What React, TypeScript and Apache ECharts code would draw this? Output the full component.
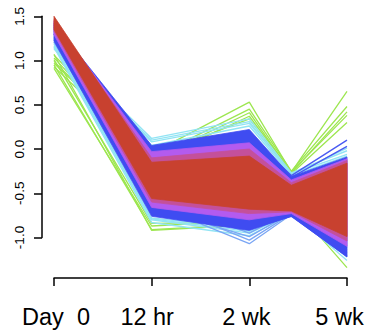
import React, { useEffect, useRef } from "react";
import * as echarts from "echarts";

// x positions of the measured time points (the 4th point has no tick label)
const timePos = [0, 1, 2, 2.43, 3];
const xTickValues = [0, 1, 2, 3];
const xTickLabels = ["Day  0", "12 hr", "2 wk", "5 wk"];
const yTickValues = [-1, -0.5, 0, 0.5, 1, 1.5];
const yTickLabels = ["-1.0", "-0.5", "0.0", "0.5", "1.0", "1.5"];

// individual profile lines (values at each time point)
const greenLines = [
  [1.06, -0.05, 0.53, -0.26, 0.65],
  [0.99, -0.1, 0.45, -0.25, 0.48],
  [0.93, -0.12, 0.41, -0.27, 0.42],
  [1.03, -0.14, 0.37, -0.26, 0.38],
  [0.97, -0.08, 0.34, -0.28, 0.3],
  [0.95, -0.91, -0.85, -0.62, -1.34],
  [1.07, -0.92, -0.86, -0.55, -0.88],
  [0.91, -0.87, -0.81, -0.5, -0.72],
  [1.01, -0.84, -0.83, -0.46, -0.62],
];
const cyanLines = [
  [1.2, 0.12, 0.34, -0.27, -0.02],
  [1.17, 0.08, 0.29, -0.28, -0.06],
  [1.14, 0.1, 0.31, -0.29, 0.01],
  [1.13, 0.04, 0.26, -0.3, -0.08],
  [1.19, -0.8, -0.95, -0.73, -1.22],
  [1.15, -0.83, -0.98, -0.74, -1.18],
  [1.21, -0.78, -0.9, -0.71, -1.26],
  [1.16, -0.79, -0.93, -0.75, -1.2],
];
const lightBlueLines = [
  [1.23, -0.62, -1.07, -0.74, -1.14],
  [1.25, -0.58, -1.03, -0.73, -1.1],
  [1.21, -0.66, -0.99, -0.72, -1.17],
  [1.27, -0.55, -0.95, -0.7, -1.12],
];
const blueLines = [
  [1.4, 0.02, 0.15, -0.3, 0.1],
  [1.38, 0.0, 0.12, -0.32, 0.03],
  [1.3, -0.7, -0.9, -0.76, -1.21],
];

// dense core: envelopes of the high-membership profiles
const blueUpper = [1.42, 0.04, 0.22, -0.31, -0.09];
const blueLower = [1.22, -0.76, -0.92, -0.76, -1.22];
const violetUpper = [1.44, -0.03, 0.07, -0.35, -0.11];
const violetLower = [1.29, -0.66, -0.8, -0.73, -1.1];
const pinkUpper = [1.46, -0.1, 0.0, -0.38, -0.13];
const pinkLower = [1.33, -0.6, -0.73, -0.71, -1.04];
const redUpper = [1.5, -0.15, -0.08, -0.41, -0.16];
const redLower = [1.35, -0.56, -0.68, -0.7, -0.99];

const FONT = "'Liberation Sans', Arial, Helvetica, sans-serif";

function lineSeries(vals: number[], color: string, width: number) {
  return {
    type: "line",
    xAxisIndex: 0,
    yAxisIndex: 0,
    z: 2,
    data: timePos.map((t, i) => [t, vals[i]]),
    symbol: "none",
    silent: true,
    lineStyle: { color, width },
  };
}

function bandSeries(upper: number[], lower: number[], color: string, z: number) {
  return {
    type: "custom",
    xAxisIndex: 0,
    yAxisIndex: 0,
    coordinateSystem: "cartesian2d",
    silent: true,
    z,
    data: [[0, 0]],
    renderItem: (_p: any, api: any) => {
      const pts: number[][] = [];
      for (let i = 0; i < timePos.length; i++) pts.push(api.coord([timePos[i], upper[i]]));
      for (let i = timePos.length - 1; i >= 0; i--) pts.push(api.coord([timePos[i], lower[i]]));
      return {
        type: "polygon",
        shape: { points: pts },
        style: { fill: color, stroke: color, lineWidth: 0.8 },
      };
    },
  };
}

export default function App() {
  const ref = useRef<HTMLDivElement>(null);
  useEffect(() => {
    if (!ref.current) return;
    const chart = echarts.init(ref.current, undefined, { renderer: "svg" });
    const series: any[] = [];
    greenLines.forEach((l) => series.push(lineSeries(l, "#9de650", 1.3)));
    cyanLines.forEach((l) => series.push(lineSeries(l, "#92e4f4", 1.4)));
    lightBlueLines.forEach((l) => series.push(lineSeries(l, "#7aa6f4", 1.3)));
    blueLines.forEach((l) => series.push(lineSeries(l, "#4a5af2", 1.4)));
    series.push(bandSeries(blueUpper, blueLower, "#3f4cf1", 3));
    series.push(bandSeries(violetUpper, violetLower, "#b35bef", 4));
    series.push(bandSeries(pinkUpper, pinkLower, "#c4509a", 5));
    series.push(bandSeries(redUpper, redLower, "#c8412f", 6));

    const richBase = { fontSize: 23.5, fontFamily: FONT, color: "#000" };
    chart.setOption({
      animation: false,
      grid: [
        { left: 54, width: 293, top: 16.25, height: 265.5 },
        { left: 54, width: 293, top: 16.25, height: 221.25 },
      ],
      xAxis: [
        { gridIndex: 0, type: "value", min: 0, max: 3, show: false },
        {
          gridIndex: 1,
          type: "value",
          min: 0,
          max: 3,
          interval: 1,
          position: "bottom",
          offset: 40.5,
          axisLine: { show: true, onZero: false, lineStyle: { color: "#000", width: 1.5 } },
          axisTick: { show: true, length: 8, lineStyle: { color: "#000", width: 1.5 } },
          splitLine: { show: false },
          axisLabel: {
            margin: 27,
            formatter: (v: number) => {
              const i = xTickValues.indexOf(Math.round(v));
              const key = ["d", "h", "w", "f"][i];
              return i < 0 ? "" : `{${key}|${xTickLabels[i]}}`;
            },
            rich: {
              d: { ...richBase, padding: [0, 0, 0, 4] },
              h: { ...richBase, padding: [0, 9, 0, 0] },
              w: { ...richBase, padding: [0, 6, 0, 0] },
              f: { ...richBase, padding: [0, 15, 0, 0] },
            },
          },
        },
      ],
      yAxis: [
        { gridIndex: 0, type: "value", min: -1.5, max: 1.5, show: false },
        {
          gridIndex: 1,
          type: "value",
          min: -1,
          max: 1.5,
          interval: 0.5,
          position: "left",
          offset: 12,
          axisLine: { show: true, onZero: false, lineStyle: { color: "#000", width: 1.5 } },
          axisTick: { show: true, length: 8, lineStyle: { color: "#000", width: 1.5 } },
          splitLine: { show: false },
          axisLabel: {
            rotate: 90,
            margin: 16,
            fontSize: 13.5,
            fontFamily: FONT,
            color: "#000",
            formatter: (v: number) => {
              const i = yTickValues.findIndex((t) => Math.abs(t - v) < 1e-6);
              return i < 0 ? "" : yTickLabels[i];
            },
          },
        },
      ],
      series,
    });
    return () => chart.dispose();
  }, []);
  return (
    <div
      ref={ref}
      style={{ position: "fixed", left: 0, top: 0, width: 367, height: 335, background: "#fff" }}
    />
  );
}
